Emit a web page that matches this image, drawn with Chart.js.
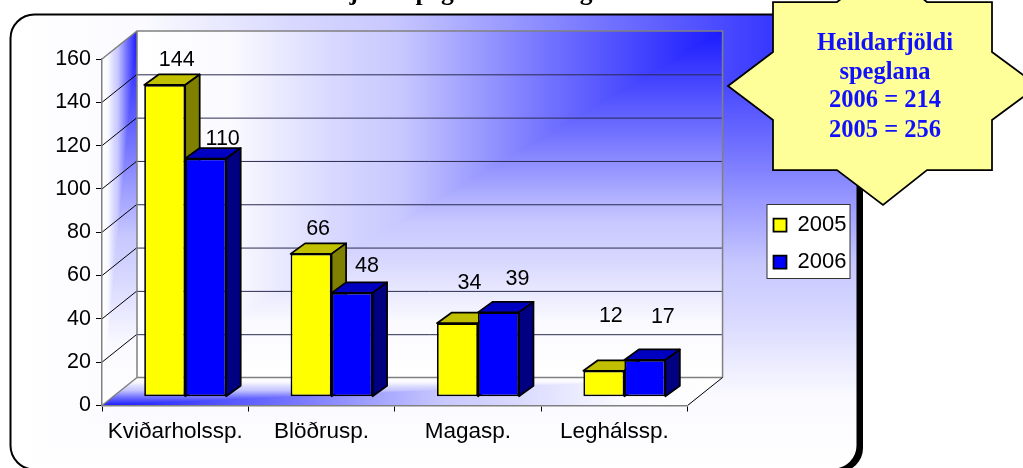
<!DOCTYPE html>
<html>
<head>
<meta charset="utf-8">
<style>html,body{margin:0;padding:0;background:#fff}canvas{display:block}</style>
<script src="https://cdn.jsdelivr.net/npm/chart.js@4"></script>
</head>
<body>
<canvas id="c" width="1023" height="468"></canvas>
<script>
const categories = ['Kviðarholssp.', 'Blöðrusp.', 'Magasp.', 'Leghálssp.'];
const series2005 = [144, 66, 34, 12];
const series2006 = [110, 48, 39, 17];
const yTicksMax = 160;
const yStep = 20;
const starLines = ['Heildarfjöldi', 'speglana', '2006 = 214', '2005 = 256'];
const titleText = 'fjöldi speglana eftir tegund rannsókna';

// style / layout
const SANS = '"Liberation Sans", Arial, sans-serif';
const SERIF = '"Liberation Serif", "Times New Roman", serif';
const plot = {left: 102, right: 688, top: 59, bottom: 405.5};
const wallShift = {x: 35, y: -28};
const barShift = {x: 10, y: -8.7};
const barDepth = {x: 14.5, y: -10.5};
const faces = [{top: '#c0c000', side: '#808000'}, {top: '#0000c0', side: '#000080'}];
const labelOffsets = [
  [[12, -25], [7, -24.5], [12, -40], [7, -55]],
  [[17, -20], [15, -27], [19, -33], [18, -42.5]]
];
const shadeStops = [[0, 26], [.3, 115], [.55, 200], [.66, 215], [.84, 250], [1, 255]];
const starPoly = [[728,86],[773,52],[773,2],[837,2],[883,-33],[927,2],[992,2],[992,52],[1038,86],[992,120],[992,170],[927,170],[883,205],[837,170],[773,170],[773,120]];

function addStops(g) {
  shadeStops.forEach(([t, r]) => g.addColorStop(t, `rgb(${r},${r},255)`));
  return g;
}
function tracePoly(ctx, pts) {
  ctx.beginPath();
  pts.forEach((p, i) => i ? ctx.lineTo(p[0], p[1]) : ctx.moveTo(p[0], p[1]));
  ctx.closePath();
}
// "from corner" shading: colour follows the larger of the two normalised distances from the corner
function cornerShade(ctx, cx, cy, ox, oy) {
  const x0 = Math.min(cx, ox), y0 = Math.min(cy, oy), w = Math.abs(ox - cx), h = Math.abs(oy - cy);
  ctx.fillStyle = addStops(ctx.createLinearGradient(0, cy, 0, oy));
  ctx.fillRect(x0, y0, w, h);
  ctx.fillStyle = addStops(ctx.createLinearGradient(cx, 0, ox, 0));
  tracePoly(ctx, [[cx, cy], [ox, cy], [ox, oy]]);
  ctx.fill();
}

const scene = {
  id: 'scene',
  beforeLayout(chart) {
    chart.legend.afterFit = function () { this.width = 100; };
  },
  afterLayout(chart) {
    const l = chart.legend;
    const w = l.right - l.left, h = l.bottom - l.top;
    l.left = 758.5; l.right = 758.5 + w; l.top = 199; l.bottom = 199 + h;
  },
  beforeDraw(chart) {
    const ctx = chart.ctx;
    const y = chart.scales.y;
    const L = chart.scales.x.left, R = chart.scales.x.right;
    const bx = L + wallShift.x, rx = R + wallShift.x, ty = y.getPixelForValue(yTicksMax), by = y.getPixelForValue(0);
    const sy = wallShift.y;

    // outer panel
    ctx.save();
    ctx.fillStyle = '#000';
    ctx.beginPath(); ctx.roundRect(13, 17, 850, 455, 24); ctx.fill();
    ctx.save();
    ctx.beginPath(); ctx.roundRect(10.5, 14.5, 847, 455, 24);
    ctx.clip();
    cornerShade(ctx, 858, 14, 10, 470);
    ctx.restore();
    ctx.beginPath(); ctx.roundRect(10.5, 14.5, 847, 455, 24);
    ctx.strokeStyle = '#000'; ctx.lineWidth = 2; ctx.stroke();
    ctx.restore();

    // back wall
    ctx.save();
    ctx.beginPath(); ctx.rect(bx, ty + sy, rx - bx, by - ty);
    ctx.clip();
    cornerShade(ctx, rx, ty + sy, bx, by + sy);
    ctx.restore();
    // side wall
    ctx.save();
    tracePoly(ctx, [[L, ty], [bx, ty + sy], [bx, by + sy], [L, by]]);
    ctx.clip();
    cornerShade(ctx, bx, ty + sy, L, by);
    ctx.restore();
    // floor
    ctx.save();
    tracePoly(ctx, [[L, by], [bx, by + sy], [rx, by + sy], [R, by]]);
    ctx.clip();
    cornerShade(ctx, L, by, rx, by + sy);
    ctx.restore();

    // grid lines
    ctx.save();
    y.ticks.forEach(t => {
      const p = y.getPixelForValue(t.value);
      if (t.value === 0 || t.value === yTicksMax) return;
      ctx.strokeStyle = '#000'; ctx.lineWidth = 1;
      ctx.beginPath(); ctx.moveTo(L, p); ctx.lineTo(bx, p + sy); ctx.stroke();
      ctx.strokeStyle = '#2a2a50';
      ctx.beginPath(); ctx.moveTo(bx, p + sy + .5); ctx.lineTo(rx, p + sy + .5); ctx.stroke();
    });
    // wall edges
    ctx.strokeStyle = '#808080'; ctx.lineWidth = 1.5;
    ctx.beginPath();
    ctx.moveTo(L, ty); ctx.lineTo(bx, ty + sy); ctx.lineTo(rx, ty + sy); ctx.lineTo(rx, by + sy);
    ctx.moveTo(bx, ty + sy); ctx.lineTo(bx, by + sy); ctx.lineTo(rx, by + sy);
    ctx.moveTo(L, by); ctx.lineTo(bx, by + sy);
    ctx.stroke();
    ctx.strokeStyle = '#000'; ctx.lineWidth = 1;
    ctx.beginPath(); ctx.moveTo(R, by); ctx.lineTo(rx, by + sy); ctx.stroke();
    ctx.restore();

    // legend box
    ctx.save();
    ctx.fillStyle = '#fff'; ctx.strokeStyle = '#333'; ctx.lineWidth = 1;
    ctx.fillRect(767, 204.5, 83, 74); ctx.strokeRect(767, 204.5, 83, 74);
    ctx.restore();
  },
  beforeDatasetsDraw(chart) {
    const ctx = chart.ctx;
    ctx.save();
    ctx.translate(barShift.x, barShift.y);
    // top and side faces, taken from the library's bar elements
    ctx.lineWidth = 1.75; ctx.strokeStyle = '#000'; ctx.lineJoin = 'round';
    chart.data.datasets.forEach((ds, di) => {
      chart.getDatasetMeta(di).data.forEach(bar => {
        const l = bar.x - bar.width / 2, r = bar.x + bar.width / 2, t = bar.y, b = bar.base;
        const dx = barDepth.x, dy = barDepth.y;
        ctx.fillStyle = faces[di].top;
        tracePoly(ctx, [[l, t], [r, t], [r + dx, t + dy], [l + dx, t + dy]]);
        ctx.fill(); ctx.stroke();
        ctx.fillStyle = faces[di].side;
        tracePoly(ctx, [[r, t], [r + dx, t + dy], [r + dx, b + dy], [r, b]]);
        ctx.fill(); ctx.stroke();
      });
    });
  },
  afterDatasetsDraw(chart) {
    const ctx = chart.ctx;
    ctx.restore();
    ctx.save();
    ctx.fillStyle = '#000';
    ctx.font = '21.5px ' + SANS;
    ctx.textAlign = 'center'; ctx.textBaseline = 'middle';
    chart.data.datasets.forEach((ds, di) => {
      chart.getDatasetMeta(di).data.forEach((bar, i) => {
        const o = labelOffsets[di][i];
        ctx.fillText(String(ds.data[i]), bar.x + barShift.x + o[0], bar.y + barShift.y + o[1]);
      });
    });
    ctx.restore();
  },
  afterDraw(chart) {
    const ctx = chart.ctx;
    ctx.save();
    // title, cropped by the top of the picture
    ctx.fillStyle = '#000';
    ctx.font = 'bold 25.5px ' + SERIF;
    ctx.textAlign = 'left'; ctx.textBaseline = 'alphabetic';
    ctx.fillText(titleText, 341, -0.5);
    // star
    tracePoly(ctx, starPoly);
    ctx.fillStyle = '#ffff99'; ctx.fill();
    ctx.strokeStyle = '#000'; ctx.lineWidth = 1.75; ctx.lineJoin = 'miter'; ctx.stroke();
    ctx.fillStyle = '#1010ff';
    ctx.font = 'bold 24.5px ' + SERIF;
    ctx.textAlign = 'center'; ctx.textBaseline = 'middle';
    const ys = [44, 73, 101, 131];
    starLines.forEach((s, i) => ctx.fillText(s, 885, ys[i]));
    ctx.restore();
  }
};

new Chart(document.getElementById('c'), {
  type: 'bar',
  data: {
    labels: categories,
    datasets: [
      {label: '2005', data: series2005, backgroundColor: '#ffff00', borderColor: '#000', borderWidth: 1.75, borderSkipped: false, clip: false},
      {label: '2006', data: series2006, backgroundColor: '#0000ff', borderColor: '#000', borderWidth: 1.75, borderSkipped: false, clip: false}
    ]
  },
  options: {
    responsive: false,
    animation: false,
    events: [],
    layout: {padding: {left: 0, top: plot.top, right: 1023 - plot.right - 97.5, bottom: 0}},
    datasets: {bar: {categoryPercentage: 0.56, barPercentage: 1}},
    plugins: {
      legend: {
        position: 'right',
        align: 'start',
        labels: {
          color: '#000',
          font: {family: SANS, size: 22},
          boxWidth: 13, boxHeight: 13, padding: 15
        }
      },
      tooltip: {enabled: false},
      title: {display: false}
    },
    scales: {
      x: {
        afterFit(s) { s.height = 468 - plot.bottom; },
        grid: {drawOnChartArea: false, color: '#000', tickLength: 6, offset: true},
        border: {color: '#808080', width: 1.5},
        ticks: {color: '#000', font: {family: SANS, size: 22.5}, padding: 7, maxRotation: 0, autoSkip: false}
      },
      y: {
        min: 0, max: yTicksMax,
        afterFit(s) { s.width = plot.left; },
        grid: {drawOnChartArea: false, color: '#000', tickLength: 6},
        border: {color: '#808080', width: 1.5},
        ticks: {stepSize: yStep, color: '#000', font: {family: SANS, size: 21.5}, padding: 5}
      }
    }
  },
  plugins: [scene]
});
</script>
</body>
</html>
